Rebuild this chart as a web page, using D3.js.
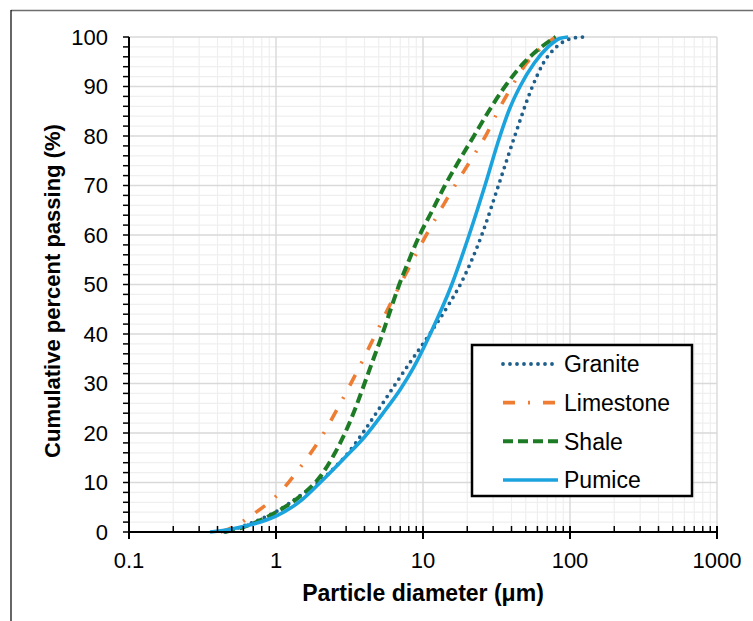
<!DOCTYPE html>
<html>
<head>
<meta charset="utf-8">
<script src="https://cdn.jsdelivr.net/npm/d3@7"></script>
<style>
  body { margin: 0; background: #fff; }
  text { font-family: "Liberation Sans", Arial, sans-serif; fill: #000; }
</style>
</head>
<body>
<svg id="chart"></svg>
<script>
// particle diameter (um) and cumulative percent passing
var granite = [
    [0.45, 0], [0.6, 1.2], [0.8, 2.7], [1.0, 4.1], [1.5, 7.6], [2.0, 10.3], [2.5, 13.0],
    [3.0, 15.5], [4.0, 20.5], [5.0, 24.8], [6.6, 30.2], [8.4, 34.8], [10, 38.0], [12, 41.5],
    [15, 46], [18.3, 50.5], [25.1, 60], [32.6, 70], [42.1, 80], [55.5, 90], [65.8, 94.7],
    [80.8, 98], [102, 99.7], [123, 100]
];
var limestone = [
    [0.42, 0], [0.55, 1.5], [0.7, 3.6], [1.0, 7.2], [1.5, 13.5], [2.0, 18.8], [2.72, 25.8],
    [3.5, 32], [4.5, 38.5], [5.5, 43.8], [6.6, 48.5], [8.0, 53.3], [10.3, 59.5], [13, 64.8],
    [16.5, 70], [21, 75], [27.2, 80.5], [33, 85.5], [40.2, 90], [50.6, 94.7], [65, 98],
    [80, 100]
];
var shale = [
    [0.45, 0], [0.6, 1], [0.8, 2.5], [1.0, 4], [1.4, 6.8], [2.0, 11.2], [2.5, 15.8],
    [3.0, 20.5], [3.5, 25.3], [4.0, 30], [4.5, 34.2], [5.1, 38.6], [6.0, 44.8], [6.8, 49.5],
    [8.0, 54.8], [9.5, 60], [11.5, 64.8], [14.1, 70], [18, 75.5], [22.2, 80], [28, 85],
    [36.1, 90], [48.3, 94.7], [64, 98], [80, 100]
];
var pumice = [
    [0.356, 0], [0.5, 0.6], [0.7, 1.6], [1.0, 3.2], [1.5, 6.5], [2.0, 10.0], [3.0, 15.3],
    [4.0, 19.2], [5.5, 24.5], [7.0, 28.8], [8.58, 33.1], [11.2, 40], [15.7, 50], [20.6, 60],
    [26.4, 70], [33.4, 80], [38.6, 85.3], [45.7, 90], [57, 94.7], [71, 98], [85, 99.7],
    [97, 100]
];

var seriesNames = ["Granite", "Limestone", "Shale", "Pumice"];
var xTicks = [0.1, 1, 10, 100, 1000];
var yTicks = [0, 10, 20, 30, 40, 50, 60, 70, 80, 90, 100];

var width = 753, height = 621;
var plotLeft = 129, plotRight = 717, plotTop = 37, plotBottom = 532;

var svg = d3.select("#chart")
    .attr("width", width)
    .attr("height", height);

// outer frame (cropped in the original)
svg.append("line").attr("x1", 11).attr("x2", width).attr("y1", 10.5).attr("y2", 10.5)
    .attr("stroke", "#6e6e6e").attr("stroke-width", 1.5);
svg.append("line").attr("x1", 11).attr("x2", 11).attr("y1", 10).attr("y2", height)
    .attr("stroke", "#000").attr("stroke-width", 1.2);

var x = d3.scaleLog().domain([0.1, 1000]).range([plotLeft, plotRight]);
var y = d3.scaleLinear().domain([0, 100]).range([plotBottom, plotTop]);

// minor ticks in each decade
var xMinor = [];
for (var dec = 0.1; dec < 1000; dec *= 10) {
    for (var k = 2; k <= 9; k++) {
        xMinor.push(+(dec * k).toPrecision(3));
    }
}
var yMinor = d3.range(0, 101, 2).filter(function (v) { return v % 10 != 0; });

var grid = svg.append("g");
grid.selectAll(".xminor").data(xMinor).enter().append("line")
    .attr("x1", function (d) { return x(d); })
    .attr("x2", function (d) { return x(d); })
    .attr("y1", plotTop).attr("y2", plotBottom)
    .attr("stroke", "#efefef").attr("stroke-width", 1.2);
grid.selectAll(".yminor").data(yMinor).enter().append("line")
    .attr("x1", plotLeft).attr("x2", plotRight)
    .attr("y1", function (d) { return y(d); })
    .attr("y2", function (d) { return y(d); })
    .attr("stroke", "#efefef").attr("stroke-width", 1.2);
grid.selectAll(".xmajor").data(xTicks).enter().append("line")
    .attr("x1", function (d) { return x(d); })
    .attr("x2", function (d) { return x(d); })
    .attr("y1", plotTop).attr("y2", plotBottom)
    .attr("stroke", "#d9d9d9").attr("stroke-width", 1.4);
grid.selectAll(".ymajor").data(yTicks).enter().append("line")
    .attr("x1", plotLeft).attr("x2", plotRight)
    .attr("y1", function (d) { return y(d); })
    .attr("y2", function (d) { return y(d); })
    .attr("stroke", "#d9d9d9").attr("stroke-width", 1.4);

// curves
var line = d3.line()
    .x(function (d) { return x(d[0]); })
    .y(function (d) { return y(d[1]); })
    .curve(d3.curveMonotoneX);

var styles = [
    { data: granite, color: "#1f5f8b", width: 3.8, dash: "0 7", cap: "round" },
    { data: limestone, color: "#ee7d33", width: 3.6, dash: "12 13 2 13", cap: "butt" },
    { data: shale, color: "#1e7b25", width: 4, dash: "10 5", cap: "butt" },
    { data: pumice, color: "#1ba3dd", width: 3.6, dash: null, cap: "butt" }
];

styles.forEach(function (s) {
    svg.append("path")
        .datum(s.data)
        .attr("d", line)
        .attr("fill", "none")
        .attr("stroke", s.color)
        .attr("stroke-width", s.width)
        .attr("stroke-linecap", s.cap)
        .attr("stroke-dasharray", s.dash);
});

// y axis
var yAxis = svg.append("g").attr("transform", "translate(" + plotLeft + ",0)");
yAxis.append("line").attr("x1", 0).attr("x2", 0).attr("y1", plotTop).attr("y2", plotBottom + 1)
    .attr("stroke", "#000").attr("stroke-width", 2);
yAxis.selectAll(".yt").data(d3.range(0, 101, 2)).enter().append("line")
    .attr("x1", -6).attr("x2", 0)
    .attr("y1", function (d) { return y(d); })
    .attr("y2", function (d) { return y(d); })
    .attr("stroke", "#000").attr("stroke-width", 1.5);
yAxis.selectAll(".ylab").data(yTicks).enter().append("text")
    .attr("x", -21)
    .attr("y", function (d) { return y(d); })
    .attr("dy", "0.36em")
    .attr("text-anchor", "end")
    .style("font-size", "22px")
    .text(function (d) { return d; });

// x axis
var xAxis = svg.append("g").attr("transform", "translate(0," + plotBottom + ")");
xAxis.append("line").attr("x1", plotLeft - 1).attr("x2", plotRight).attr("y1", 0).attr("y2", 0)
    .attr("stroke", "#000").attr("stroke-width", 2);
xAxis.selectAll(".xmt").data(xMinor).enter().append("line")
    .attr("x1", function (d) { return x(d); })
    .attr("x2", function (d) { return x(d); })
    .attr("y1", -6).attr("y2", 0)
    .attr("stroke", "#000").attr("stroke-width", 1.5);
xAxis.selectAll(".xt").data(xTicks).enter().append("line")
    .attr("x1", function (d) { return x(d); })
    .attr("x2", function (d) { return x(d); })
    .attr("y1", -6).attr("y2", 7)
    .attr("stroke", "#000").attr("stroke-width", 2);
xAxis.selectAll(".xlab").data(xTicks).enter().append("text")
    .attr("x", function (d) { return x(d); })
    .attr("y", 36)
    .attr("text-anchor", "middle")
    .style("font-size", "22px")
    .text(function (d) { return d; });

// axis titles
svg.append("text")
    .attr("x", (plotLeft + plotRight) / 2)
    .attr("y", 601)
    .attr("text-anchor", "middle")
    .style("font-size", "23px")
    .style("font-weight", "bold")
    .text("Particle diameter (μm)");

svg.append("text")
    .attr("transform", "translate(60," + 291 + ") rotate(-90)")
    .attr("text-anchor", "middle")
    .style("font-size", "22px")
    .style("font-weight", "bold")
    .text("Cumulative percent passing (%)");

// legend
var legend = svg.append("g");
legend.append("rect")
    .attr("x", 472).attr("y", 345)
    .attr("width", 220).attr("height", 151)
    .attr("fill", "#fff")
    .attr("stroke", "#000").attr("stroke-width", 2.5);

var rowY = d3.scalePoint().domain(seriesNames).range([364, 480]);

styles.forEach(function (s, i) {
    var ry = rowY(seriesNames[i]);
    legend.append("line")
        .attr("x1", 503).attr("x2", 558)
        .attr("y1", ry).attr("y2", ry)
        .attr("stroke", s.color)
        .attr("stroke-width", s.width)
        .attr("stroke-linecap", s.cap)
        .attr("stroke-dasharray", s.dash);
    legend.append("text")
        .attr("x", 564)
        .attr("y", ry)
        .attr("dy", "0.36em")
        .style("font-size", "23px")
        .text(seriesNames[i]);
});
</script>
</body>
</html>
